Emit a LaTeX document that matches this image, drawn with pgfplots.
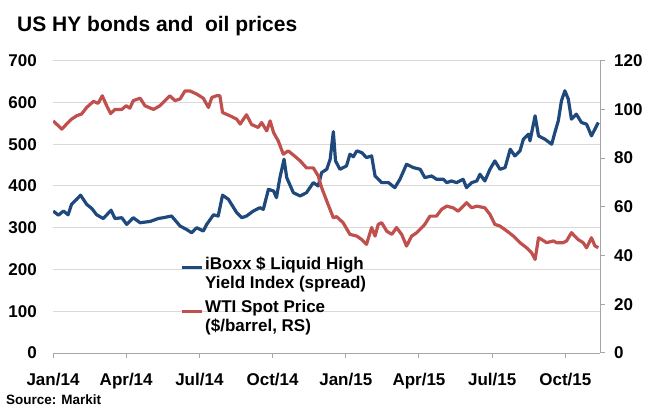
\documentclass[border=0pt]{standalone}
\usepackage{pgfplots}
\pgfplotsset{compat=1.18}
\usepackage{fontspec}
\setmainfont{Liberation Sans}[BoldFont={Liberation Sans Bold}]
\definecolor{hyblue}{RGB}{31,73,125}
\definecolor{oilred}{RGB}{192,80,77}
\definecolor{gridgray}{RGB}{217,217,217}
\definecolor{axgray}{RGB}{166,166,166}

\pgfplotstableread{
m v
0.01 340
0.22 330
0.43 340
0.62 331
0.76 356
0.97 368
1.13 378
1.38 356
1.59 346
1.79 331
2.06 322
2.38 342
2.54 322
2.82 324
3.02 308
3.29 324
3.57 312
3.98 315
4.31 322
4.52 324
4.86 328
5.21 304
5.47 296
5.68 288
5.89 300
6.16 292
6.30 308
6.58 331
6.77 328
6.95 378
7.19 368
7.53 336
7.74 324
7.93 328
8.21 340
8.48 348
8.62 344
8.83 392
9.04 388
9.16 372
9.30 420
9.47 464
9.58 420
9.85 384
10.13 376
10.39 384
10.67 408
10.87 400
11.01 432
11.22 440
11.36 464
11.49 530
11.58 460
11.76 440
12.03 448
12.17 476
12.31 470
12.45 484
12.65 480
12.85 468
13.06 472
13.20 424
13.47 408
13.75 408
14.01 396
14.22 416
14.49 452
14.77 444
15.05 440
15.24 420
15.52 424
15.72 416
16.00 416
16.14 408
16.33 412
16.54 408
16.81 416
16.95 396
17.16 408
17.37 412
17.50 428
17.70 412
17.91 440
18.11 460
18.32 440
18.53 444
18.74 488
18.93 472
19.14 484
19.28 512
19.49 524
19.55 508
19.76 568
19.90 520
20.16 512
20.44 500
20.57 528
20.71 556
20.84 604
20.98 628
21.12 608
21.25 560
21.45 572
21.66 552
21.87 548
22.07 520
22.35 552
}\hytable

\pgfplotstableread{
m v
0.01 95.3
0.36 91.9
0.56 94
0.76 96
0.97 97.4
1.17 98.1
1.38 100.8
1.66 103.3
1.85 102.5
2.02 105.6
2.20 101.5
2.36 98.3
2.54 100
2.82 100
3.00 101.5
3.15 100.5
3.29 103.6
3.57 104.6
3.77 101.5
4.12 100
4.38 101.5
4.59 103.6
4.79 105.6
5.00 103.6
5.21 104.3
5.41 107.6
5.61 107.6
5.89 106.3
6.16 104.6
6.37 100.8
6.51 104.9
6.70 105.6
6.84 105.6
6.95 98.7
7.25 97.4
7.53 96
7.67 94
7.93 97.8
8.14 93.8
8.41 92.6
8.55 94.6
8.76 91.2
8.90 95.3
9.04 90.5
9.23 87.1
9.44 81.6
9.64 83
9.92 80.7
10.13 78.9
10.39 76
10.67 76
10.87 72.7
11.01 67.9
11.22 62.4
11.49 55.5
11.62 56
11.89 53.5
12.17 48.7
12.45 48
12.65 46.6
12.85 44.6
13.06 51.5
13.20 48
13.33 52.8
13.47 53.5
13.68 50
13.89 48.7
14.08 51.5
14.29 48.7
14.49 43.9
14.70 48
14.91 49.4
15.05 50.8
15.24 52.8
15.45 56.2
15.72 56.2
15.93 59
16.14 60.3
16.40 59.6
16.61 58.2
16.95 61.7
17.16 59.6
17.37 60.3
17.70 59.6
17.91 56.9
18.11 52.8
18.32 52.1
18.60 50.1
18.87 48
19.14 45.3
19.41 43.2
19.62 41.1
19.76 38.4
19.90 47.3
20.03 46.6
20.23 45.3
20.51 46
20.64 45.3
20.91 45.3
21.05 46
21.25 49.4
21.52 46.6
21.73 45.3
21.87 43.2
22.07 47.3
22.21 44
22.35 43.2
}\oiltable

\pgfplotsset{
  common/.style={
    at={(53bp,53bp)}, anchor=south west, scale only axis,
    width=547bp, height=292.3bp,
    xmin=0, xmax=22.42,
    tick align=outside, major tick length=5bp,
    /pgf/number format/assume math mode=true,
    ticklabel style={font=\fontsize{17bp}{20bp}\selectfont\bfseries, inner sep=0pt},
  },
}

\begin{document}
\begin{tikzpicture}
\useasboundingbox (0,0) rectangle (646bp,406bp);
\node[anchor=base west, inner sep=0pt, font=\fontsize{21bp}{25bp}\selectfont\bfseries] at (17bp,374bp) {US HY bonds and\ \ oil prices};
\node[anchor=base west, inner sep=0pt, font=\fontsize{13.5bp}{16bp}\selectfont\bfseries] at (6bp,1.5bp) {Source: Markit};

\begin{axis}[common,
  ymin=0, ymax=700, ytick={0,100,...,700},
  xtick={0,3,...,21},
  xticklabels={Jan/14,Apr/14,Jul/14,Oct/14,Jan/15,Apr/15,Jul/15,Oct/15},
  axis x line*=bottom, axis y line*=left,
  y axis line style={draw=none}, ytick style={draw=none},
  x axis line style={axgray, line width=1bp},
  xtick style={axgray, line width=1bp},
  ymajorgrids, grid style={gridgray, line width=1bp},
  yticklabel style={anchor=east, xshift=-11bp},
  xticklabel style={anchor=base, yshift=-27.5bp},
]
\addplot[hyblue, line width=3.2bp, line join=round] table[x=m, y=v] {\hytable};
\end{axis}

\begin{axis}[common,
  ymin=0, ymax=120, ytick={0,20,...,120},
  axis x line=none, axis y line*=right,
  y axis line style={axgray, line width=1bp},
  ytick style={axgray, line width=1bp},
  yticklabel style={anchor=west, xshift=9bp},
  legend style={at={(axis description cs:0.2322,0.337)}, anchor=north west,
    draw=none, fill=none, inner sep=0pt, outer sep=0pt,
    font=\fontsize{17bp}{19.5bp}\selectfont\bfseries,
    cells={anchor=west, align=left}, row sep=6bp, column sep=0bp},
  legend image code/.code={\draw[#1] (0bp,5.5bp) -- (20bp,5.5bp);},
]
\addlegendimage{hyblue, line width=3.2bp}
\addlegendentry{iBoxx \$ Liquid High\\Yield Index (spread)}
\addplot[oilred, line width=3.2bp, line join=round] table[x=m, y=v] {\oiltable};
\addlegendentry{WTI Spot Price\\(\$/barrel, RS)}
\end{axis}
\end{tikzpicture}
\end{document}
